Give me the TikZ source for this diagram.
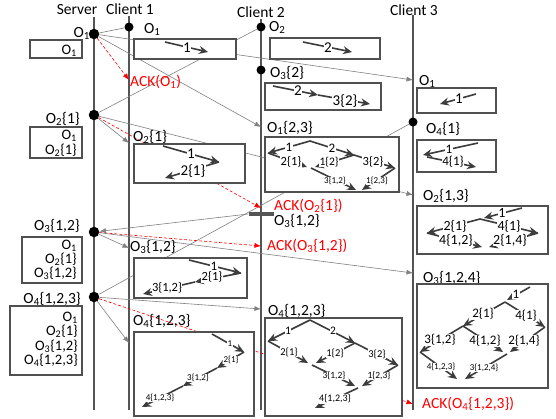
\documentclass[tikz,border=0pt]{standalone}
\usepackage{fontspec}
\setmainfont{Carlito}
\usetikzlibrary{arrows.meta}
\definecolor{lifec}{HTML}{555555}
\definecolor{msgc}{HTML}{808080}
\definecolor{boxc}{HTML}{505050}
\definecolor{edgec}{HTML}{3C3C3C}
\newcommand\Os[1]{O\textsubscript{#1}}
\newcommand\fsz[1]{\fontsize{#1}{#1}\selectfont}
\begin{document}
\begin{tikzpicture}[x=1pt,y=-1pt,
 lifeline/.style={draw=lifec,line width=1.8pt},
 dotnode/.style={circle,fill=black,inner sep=0pt,minimum size=10.5pt},
 cdot/.style={dotnode,minimum size=9pt},
 msgline/.style={draw=msgc,line width=0.6pt},
 msgarrow/.style={msgline,-{Latex[length=6.5pt,width=5pt]}},
 ackarrow/.style={draw=red,line width=0.6pt,dash pattern=on 3pt off 2pt,-{Latex[length=6.5pt,width=5pt]}},
 statebox/.style={draw=boxc,line width=1.3pt,fill=white},
 opedge/.style={draw=edgec,line width=1.6pt,-{Stealth[length=9pt,width=8pt,inset=3pt]}},
 lbl/.style={inner sep=0pt,font=\fsz{15.5}},
 blbl/.style={inner sep=0pt,font=\fsz{14.5}},
 acklbl/.style={lbl,text=red},
 elab/.style={inner sep=0.4pt,fill=white,text=black},
]
\useasboundingbox (0,0) rectangle (556,418);
% ---------- lifelines
\coordinate (st) at (94,17);  \coordinate (sb) at (94,410);
\coordinate (c1t) at (129,16); \coordinate (c1b) at (129,410);
\coordinate (c2t) at (261,19); \coordinate (c2b) at (261,410);
\coordinate (c3t) at (413,15); \coordinate (c3b) at (413,410);
\draw[lifeline] (st) -- (sb);
\draw[lifeline] (c1t) -- (c1b);
\draw[lifeline] (c2t) -- (c2b);
\draw[lifeline] (c3t) -- (c3b);
\node[lbl,anchor=base] (tsrv) at (77,14) {Server};
\node[lbl,anchor=base] (tc1) at (130,14) {Client 1};
\node[lbl,anchor=base] (tc2) at (261,17) {Client 2};
\node[lbl,anchor=base] (tc3) at (414,15) {Client 3};
% ---------- dots
\node[dotnode] (s1) at (94,34) {};
\node[dotnode] (s2) at (94,115) {};
\node[dotnode] (s3) at (94,232) {};
\node[dotnode] (s4) at (94,297) {};
\node[cdot] (c1d) at (129,27) {};
\node[cdot] (c2d) at (261,27) {};
\node[cdot] (c2e) at (261,70) {};
\node[cdot] (c3d) at (413,122) {};
\node[fill=lifec,inner sep=0pt,minimum width=25pt,minimum height=3.6pt] (bar) at (261,214) {};
% ---------- message end points
\coordinate (a1) at (129,80);
\coordinate (m12) at (261,127); \coordinate (m13) at (413,80);
\coordinate (m21) at (129,143); \coordinate (a2) at (261,208); \coordinate (m23) at (413,195);
\coordinate (m31) at (129,248); \coordinate (a3) at (261,246); \coordinate (m33) at (413,273);
\coordinate (m41) at (129,343); \coordinate (m42) at (261,309); \coordinate (a4) at (413,404);
% ---------- messages
\draw[msgline] (c1d) -- (s1);
\draw[msgline] (c2d) -- (s2);
\draw[msgarrow] (bar.west) -- (s3);
\draw[msgline] (c3d) -- (s4);
\draw[ackarrow] (s1) -- (a1);
\draw[msgarrow] (s1) -- (m12);
\draw[msgarrow] (s1) -- (m13);
\draw[msgarrow] (s2) -- (m21);
\draw[ackarrow] (s2) -- (a2);
\draw[msgarrow] (s2) -- (m23);
\draw[msgarrow] (s3) -- (m31);
\draw[ackarrow] (s3) -- (a3);
\draw[msgarrow] (s3) -- (m33);
\draw[msgarrow] (s4) -- (m41);
\draw[msgarrow] (s4) -- (m42);
\draw[ackarrow] (s4) -- (a4);
% ---------- labels on lifelines
\node[lbl,anchor=base east] (ls1) at (90,37) {\Os{1}};
\node[lbl,anchor=base east] (ls2) at (80,123) {\Os{2}\{1\}};
\node[lbl,anchor=base east] (ls3) at (80,230) {\Os{3}\{1,2\}};
\node[lbl,anchor=base east] (ls4) at (81,303) {\Os{4}\{1,2,3\}};
\node[lbl,anchor=base west] (l11) at (144,33) {\Os{1}};
\node[lbl,anchor=base west] (l12) at (133,141) {\Os{2}\{1\}};
\node[lbl,anchor=base west] (l13) at (130,251) {\Os{3}\{1,2\}};
\node[lbl,anchor=base west] (l14) at (133,325) {\Os{4}\{1,2,3\}};
\node[lbl,anchor=base west] (l21) at (269,31) {\Os{2}};
\node[lbl,anchor=base west] (l22) at (270,77) {\Os{3}\{2\}};
\node[lbl,anchor=base west] (l23) at (267,132) {\Os{1}\{2,3\}};
\node[lbl,anchor=base west] (l24) at (268,315) {\Os{4}\{1,2,3\}};
\node[lbl,anchor=base west] (l31) at (419,85) {\Os{1}};
\node[lbl,anchor=base west] (l32) at (426,133) {\Os{4}\{1\}};
\node[lbl,anchor=base west] (l33) at (423,200) {\Os{2}\{1,3\}};
\node[lbl,anchor=base west] (l34) at (423,282) {\Os{3}\{1,2,4\}};
\node[acklbl,anchor=base west] (k1) at (130,86) {ACK(\Os{1})};
\node[acklbl,anchor=base west] (k2) at (274,210.5) {ACK(\Os{2}\{1\})};
\node[lbl,anchor=base west] (kb) at (274,225) {\Os{3}\{1,2\}};
\node[acklbl,anchor=base west] (k3) at (267,250) {ACK(\Os{3}\{1,2\})};
\node[acklbl,anchor=base west] (k4) at (422,408) {ACK(\Os{4}\{1,2,3\})};
% ---------- server boxes
\draw[statebox] (30,40) rectangle (82,58);
\node[blbl,anchor=base east] (sb1a) at (77,54) {\Os{1}};
\draw[statebox] (30,127) rectangle (82,158);
\node[blbl,anchor=base east] (sb2a) at (77,139) {\Os{1}};
\node[blbl,anchor=base east] (sb2b) at (77,154) {\Os{2}\{1\}};
\draw[statebox] (22,237) rectangle (82,283);
\node[blbl,anchor=base east] (sb3a) at (77,249.5) {\Os{1}};
\node[blbl,anchor=base east] (sb3b) at (77,263) {\Os{2}\{1\}};
\node[blbl,anchor=base east] (sb3c) at (77,277) {\Os{3}\{1,2\}};
\draw[statebox] (10,306) rectangle (82,375);
\node[blbl,anchor=base east] (sb4a) at (78,321.5) {\Os{1}};
\node[blbl,anchor=base east] (sb4b) at (78,335.5) {\Os{2}\{1\}};
\node[blbl,anchor=base east] (sb4c) at (78,350) {\Os{3}\{1,2\}};
\node[blbl,anchor=base east] (sb4d) at (78,364.5) {\Os{4}\{1,2,3\}};
% ---------- Client 1 boxes
\draw[statebox] (134,39) rectangle (236,59);
\coordinate (p1a) at (165,42); \coordinate (p1b) at (208,52);
\draw[opedge] (p1a) -- (p1b);
\node[elab,font=\fsz{15}] (e1a) at (187,48) {1};

\draw[statebox] (134,144) rectangle (245,183);
\coordinate (p2a) at (163,146); \coordinate (p2b) at (219,162); \coordinate (p2c) at (165,178);
\draw[opedge] (p2a) -- (p2b);
\draw[opedge] (p2b) -- (p2c);
\node[elab,font=\fsz{15}] (e2a) at (191,154) {1};
\node[elab,font=\fsz{15}] (e2b) at (193,171) {2\{1\}};

\draw[statebox] (134,258) rectangle (247,298);
\coordinate (p3a) at (189,260); \coordinate (p3b) at (241,273); \coordinate (p3c) at (195,282); \coordinate (p3d) at (143,294);
\draw[opedge] (p3a) -- (p3b);
\draw[opedge] (p3b) -- (p3c);
\draw[opedge] (p3c) -- (p3d);
\node[elab,font=\fsz{13}] (e3a) at (214,266) {1};
\node[elab,font=\fsz{12.5}] (e3b) at (212,277) {2\{1\}};
\node[elab,font=\fsz{12.5}] (e3c) at (167,288) {3\{1,2\}};

\draw[statebox] (134,332) rectangle (254,416);
\coordinate (p4a) at (212,334); \coordinate (p4b) at (244,352); \coordinate (p4c) at (217,368);
\coordinate (p4d) at (183,386); \coordinate (p4e) at (142,407);
\draw[opedge] (p4a) -- (p4b);
\draw[opedge] (p4b) -- (p4c);
\draw[opedge] (p4c) -- (p4d);
\draw[opedge] (p4d) -- (p4e);
\node[elab,font=\fsz{9}] (e4a) at (230,344) {1};
\node[elab,font=\fsz{9}] (e4b) at (231,360) {2\{1\}};
\node[elab,font=\fsz{9}] (e4c) at (198,378) {3\{1,2\}};
\node[elab,font=\fsz{9}] (e4d) at (160,398) {4\{1,2,3\}};
% ---------- Client 2 boxes
\draw[statebox] (270,38) rectangle (380,59);
\coordinate (q1a) at (303,42); \coordinate (q1b) at (352,52);
\draw[opedge] (q1a) -- (q1b);
\node[elab,font=\fsz{15}] (f1a) at (328,48) {2};

\draw[statebox] (265,83) rectangle (381,110);
\coordinate (q2a) at (273,86); \coordinate (q2b) at (318,95); \coordinate (q2c) at (370,104);
\draw[opedge] (q2a) -- (q2b);
\draw[opedge] (q2b) -- (q2c);
\node[elab,font=\fsz{15}] (f2a) at (298,91) {2};
\node[elab,font=\fsz{15}] (f2b) at (345,101) {3\{2\}};

\draw[statebox] (265,137) rectangle (399,192);
\coordinate (ga) at (310,141); \coordinate (gb) at (268,153); \coordinate (gc) at (354,155);
\coordinate (gd1) at (307,167); \coordinate (gd2) at (315,167); \coordinate (gd) at (311,168);
\coordinate (ge) at (395,168); \coordinate (gf1) at (356,190); \coordinate (gf2) at (362,190);
\draw[opedge] (ga) -- (gb);
\draw[opedge] (ga) -- (gc);
\draw[opedge] (gb) -- (gd1);
\draw[opedge] (gc) -- (gd2);
\draw[opedge] (gc) -- (ge);
\draw[opedge] (gd) -- (gf1);
\draw[opedge] (ge) -- (gf2);
\node[elab,font=\fsz{13}] (g1) at (289,147) {1};
\node[elab,font=\fsz{13}] (g2) at (332,148) {2};
\node[elab,font=\fsz{12.5}] (g3) at (291,162) {2\{1\}};
\node[elab,font=\fsz{11.5}] (g4) at (329,162) {1\{2\}};
\node[elab,font=\fsz{12.5}] (g5) at (373,162) {3\{2\}};
\node[elab,font=\fsz{9}] (g6) at (335,181) {3\{1,2\}};
\node[elab,font=\fsz{9}] (g7) at (377,181) {1\{2,3\}};

\draw[statebox] (265,318) rectangle (402,416);
\coordinate (ja) at (310,320); \coordinate (jb) at (268,341); \coordinate (jc) at (355,343);
\coordinate (jd1) at (308,363); \coordinate (jd2) at (316,363); \coordinate (jd) at (312,365);
\coordinate (je) at (398,365); \coordinate (jf1) at (355,386); \coordinate (jf2) at (362,386);
\coordinate (jf) at (358,388); \coordinate (jg) at (315,408);
\draw[opedge] (ja) -- (jb);
\draw[opedge] (ja) -- (jc);
\draw[opedge] (jb) -- (jd1);
\draw[opedge] (jc) -- (jd2);
\draw[opedge] (jc) -- (je);
\draw[opedge] (jd) -- (jf1);
\draw[opedge] (je) -- (jf2);
\draw[opedge] (jf) -- (jg);
\node[elab,font=\fsz{11.5}] (j1) at (288,331) {1};
\node[elab,font=\fsz{11.5}] (j2) at (333,331) {2};
\node[elab,font=\fsz{10.5}] (j3) at (289,352) {2\{1\}};
\node[elab,font=\fsz{10.5}] (j4) at (335,353) {1\{2\}};
\node[elab,font=\fsz{10.5}] (j5) at (377,354) {3\{2\}};
\node[elab,font=\fsz{9.5}] (j6) at (334,376) {3\{1,2\}};
\node[elab,font=\fsz{9.5}] (j7) at (379,376) {1\{2,3\}};
\node[elab,font=\fsz{10}] (j8) at (335,399) {4\{1,2,3\}};
% ---------- Client 3 boxes
\draw[statebox] (417,88) rectangle (496,113);
\coordinate (r1a) at (476,94); \coordinate (r1b) at (440,104);
\draw[opedge] (r1a) -- (r1b);
\node[elab,font=\fsz{15}] (h1a) at (459,99) {1};

\draw[statebox] (417,140) rectangle (496,172);
\coordinate (r2a) at (478,143); \coordinate (r2b) at (423,155);
\coordinate (r2c) at (427,157); \coordinate (r2d) at (476,167);
\draw[opedge] (r2a) -- (r2b);
\draw[opedge] (r2c) -- (r2d);
\node[elab,font=\fsz{13}] (h2a) at (449,149) {1};
\node[elab,font=\fsz{13}] (h2b) at (453,162) {4\{1\}};

\draw[statebox] (417,206) rectangle (548,254);
\coordinate (ha) at (522,208); \coordinate (hb) at (484,218); \coordinate (hbs) at (480,219);
\coordinate (hc) at (427,233); \coordinate (hd) at (538,233);
\coordinate (he1) at (482,247); \coordinate (he2) at (489,247);
\draw[opedge] (ha) -- (hb);
\draw[opedge] (hbs) -- (hc);
\draw[opedge] (hbs) -- (hd);
\draw[opedge] (hc) -- (he1);
\draw[opedge] (hd) -- (he2);
\node[elab,font=\fsz{14}] (k21) at (502,213) {1};
\node[elab,font=\fsz{14}] (k22) at (455,226) {2\{1\}};
\node[elab,font=\fsz{14}] (k23) at (509,226) {4\{1\}};
\node[elab,font=\fsz{14}] (k24) at (456,240) {4\{1,2\}};
\node[elab,font=\fsz{14}] (k25) at (510,240) {2\{1,4\}};

\draw[statebox] (417,284) rectangle (548,388);
\coordinate (ia) at (530,287); \coordinate (ib) at (507,300); \coordinate (ibs) at (505,302);
\coordinate (ic) at (463,326); \coordinate (id) at (545,327);
\coordinate (ie1) at (503,352); \coordinate (ie2) at (510,352); \coordinate (ie) at (507,354);
\coordinate (ig) at (420,352); \coordinate (ih1) at (457,379); \coordinate (ih2) at (465,379);
\draw[opedge] (ia) -- (ib);
\draw[opedge] (ibs) -- (ic);
\draw[opedge] (ibs) -- (id);
\draw[opedge] (ic) -- (ig);
\draw[opedge] (ic) -- (ie1);
\draw[opedge] (id) -- (ie2);
\draw[opedge] (ig) -- (ih1);
\draw[opedge] (ie) -- (ih2);
\node[elab,font=\fsz{13}] (k31) at (516,294) {1};
\node[elab,font=\fsz{13}] (k32) at (483,314) {2\{1\}};
\node[elab,font=\fsz{13}] (k33) at (526,316) {4\{1\}};
\node[elab,font=\fsz{13}] (k34) at (440,340) {3\{1,2\}};
\node[elab,font=\fsz{13}] (k35) at (485,341) {4\{1,2\}};
\node[elab,font=\fsz{13}] (k36) at (524,341) {2\{1,4\}};
\node[elab,font=\fsz{9}] (k37) at (441,367) {4\{1,2,3\}};
\node[elab,font=\fsz{9}] (k38) at (484,368) {3\{1,2,4\}};
\end{tikzpicture}
\end{document}
